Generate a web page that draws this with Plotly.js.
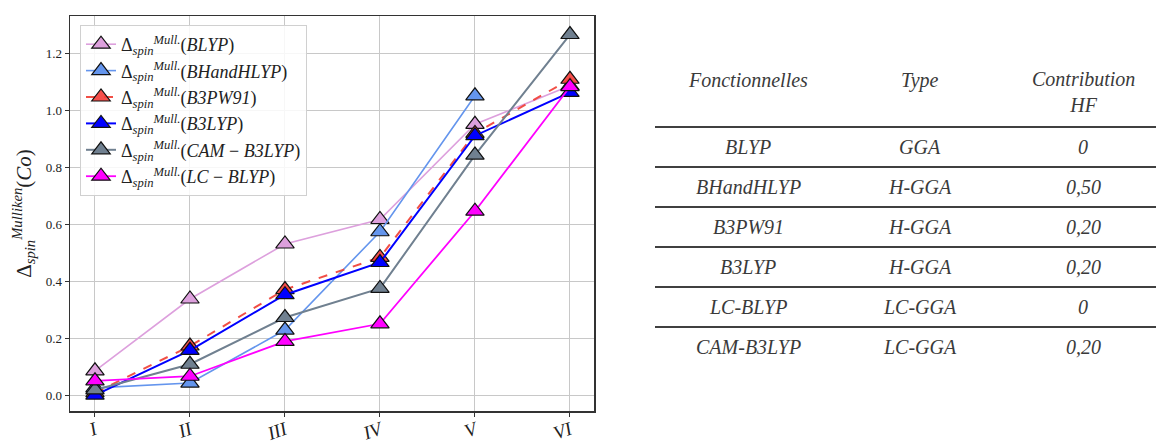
<!DOCTYPE html>
<html>
<head>
<meta charset="utf-8">
<script src="https://cdn.plot.ly/plotly-3.0.1.min.js"></script>
<style>html,body{margin:0;padding:0;background:#fff;}#chart{width:1156px;height:446px;}</style>
</head>
<body>
<div id="chart"></div>
<script>
// ---- data ----
const systems = ['I', 'II', 'III', 'IV', 'V', 'VI'];
const blyp      = [0.085, 0.337, 0.530, 0.616, 0.950, 1.085];
const bhandhlyp = [0.025, 0.042, 0.228, 0.573, 1.050, null];
const b3pw91    = [0.008, 0.172, 0.370, 0.483, 0.918, 1.108];
const b3lyp     = [0.000, 0.157, 0.352, 0.465, 0.910, 1.062];
const camb3lyp  = [0.018, 0.108, 0.272, 0.374, 0.842, 1.265];
const lcblyp    = [0.050, 0.066, 0.188, 0.250, 0.645, 1.082];

const seriesNames = ['BLYP', 'BHandHLYP', 'B3PW91', 'B3LYP', 'CAM − B3LYP', 'LC − BLYP'];

// table content
const tableHeader = ['Fonctionnelles', 'Type', 'Contribution<br>HF'];
const functionals = ['BLYP', 'BHandHLYP', 'B3PW91', 'B3LYP', 'LC-BLYP', 'CAM-B3LYP'];
const types = ['GGA', 'H-GGA', 'H-GGA', 'H-GGA', 'LC-GGA', 'LC-GGA'];
const hfContrib = ['0', '0,50', '0,20', '0,20', '0', '0,20'];

// ---- styling ----
const FONT = 'Liberation Serif, Times New Roman, serif';
const styles = [
  {line: 'rgba(221,160,221,1)', fill: '#dda0dd', dash: 'solid', w: 1.6},
  {line: '#6495ed', fill: '#6495ed', dash: 'solid', w: 1.6},
  {line: 'rgba(240,60,50,0.9)', fill: 'rgba(245,60,55,0.9)', dash: 'dash', w: 2},
  {line: '#0000ff', fill: '#0000ff', dash: 'solid', w: 2},
  {line: '#708090', fill: '#708090', dash: 'solid', w: 2},
  {line: '#ff00ff', fill: '#ff00ff', dash: 'solid', w: 1.8}
];
const allY = [blyp, bhandhlyp, b3pw91, b3lyp, camb3lyp, lcblyp];

function label(n) {
  const parts = n.split(' − ');
  return 'Δ<sub><i>spin</i></sub><sup><i>Mull.</i></sup>(' + parts.map(p => '<i>' + p + '</i>').join(' − ') + ')';
}

const traces = allY.map((y, i) => ({
  type: 'scatter',
  mode: 'lines+markers',
  x: systems,
  y: y,
  name: label(seriesNames[i]),
  connectgaps: false,
  line: {color: styles[i].line, width: styles[i].w, dash: styles[i].dash},
  marker: {symbol: 'triangle-up', size: 16, color: styles[i].fill, line: {color: '#111', width: 1.2}}
}));

// plot area in pixels
const L = 70, R = 594, T = 16, B = 411;
const W = 1156, H = 446;
function pxX(x) { return (x - L) / (R - L); }
function pxY(y) { return (B - y) / (B - T); }

const annotations = [];
const shapes = [];
const colX = [748, 920, 1083];
const tColor = '#3a3a3a';
tableHeader.forEach((h, j) => {
  annotations.push({xref: 'paper', yref: 'paper', x: pxX(colX[j]), y: pxY(j === 2 ? 92 : 80),
    text: '<i>' + h + '</i>', showarrow: false, xanchor: 'center', yanchor: 'middle',
    font: {family: FONT, size: 20, color: tColor}});
});
const rowY = [147, 187, 227, 267, 307, 347];
functionals.forEach((f, r) => {
  [f, types[r], hfContrib[r]].forEach((t, j) => {
    annotations.push({xref: 'paper', yref: 'paper', x: pxX(colX[j]), y: pxY(rowY[r]),
      text: '<i>' + t + '</i>', showarrow: false, xanchor: 'center', yanchor: 'middle',
      font: {family: FONT, size: 20, color: tColor}});
  });
});
[127, 167, 207, 247, 287, 327].forEach(ly => {
  shapes.push({type: 'line', xref: 'paper', yref: 'paper', x0: pxX(655), x1: pxX(1156),
    y0: pxY(ly), y1: pxY(ly), line: {color: '#404040', width: 2}});
});

const layout = {
  width: W, height: H,
  margin: {l: L, r: W - R, t: T, b: H - B, pad: 0},
  paper_bgcolor: '#fff', plot_bgcolor: '#fff',
  font: {family: FONT, color: '#222'},
  showlegend: true,
  legend: {
    x: pxX(80), y: pxY(25), xanchor: 'left', yanchor: 'top',
    bgcolor: 'rgba(255,255,255,0.85)', bordercolor: '#d0d0d0', borderwidth: 1,
    font: {family: FONT, size: 18, color: '#222'}, tracegroupgap: 0
  },
  xaxis: {
    type: 'category', range: [-0.263, 5.253],
    tickvals: systems, ticktext: systems.map(s => '<i>' + s + '</i>'),
    tickangle: -20, tickfont: {family: FONT, size: 19, color: '#222'},
    ticklabelstandoff: -5,
    showgrid: true, gridcolor: '#c8c8c8', gridwidth: 1,
    ticks: 'outside', ticklen: 4, tickcolor: '#333',
    showline: true, linecolor: '#333', linewidth: 1.5, mirror: true, zeroline: false
  },
  yaxis: {
    range: [-0.056, 1.33], dtick: 0.2, tick0: 0, tickformat: '.1f',
    tickfont: {family: FONT, size: 13, color: '#222'},
    showgrid: true, gridcolor: '#c8c8c8', gridwidth: 1,
    ticks: 'outside', ticklen: 4, tickcolor: '#333',
    showline: true, linecolor: '#333', linewidth: 1.5, mirror: true, zeroline: false,
    title: {text: 'Δ<sub><i>spin</i></sub><sup><i>Mulliken</i></sup>(<i>Co</i>)', font: {family: FONT, size: 21, color: '#222'}, standoff: 8}
  },
  annotations: annotations,
  shapes: shapes
};

Plotly.newPlot('chart', traces, layout, {displayModeBar: false, staticPlot: true});
</script>
</body>
</html>
